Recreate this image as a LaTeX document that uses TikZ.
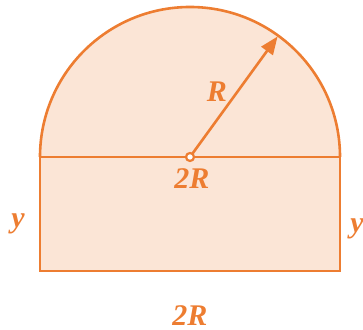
\documentclass[tikz,border=0pt]{standalone}
\usepackage{fontspec}
\setmainfont{Liberation Serif}
\usetikzlibrary{arrows.meta,calc}
\definecolor{shapeline}{HTML}{ED7D31}
\definecolor{shapefill}{HTML}{FBE5D6}
\tikzset{
  lbl/.style={text=shapeline,font=\fontsize{15}{17}\selectfont\bfseries\itshape,inner sep=0pt},
  edge/.style={draw=shapeline,line width=1.3pt}
}
\begin{document}
\begin{tikzpicture}[x=0.5pt,y=0.5pt]
  \useasboundingbox (0,0) rectangle (363,330);
  % centre of the half circle, radius 150
  \coordinate (C) at (190,173);
  \coordinate (tip) at ($(C)+(54:149)$);
  \fill[shapefill] (40,59) rectangle (340,173);
  \fill[shapefill] (40,173) arc (180:0:150) -- cycle;
  \draw[edge] (40,59) rectangle (340,173);
  \draw[edge] (40,173) arc (180:0:150);
  \draw[edge,-{Triangle[length=9pt,width=7pt]}] (C) -- (tip);
  \draw[edge,line width=1.1pt,fill=white] (C) circle (4);
  \node[lbl] (r) at (217,238) {R};
  \node[lbl] (d1) at (192,151) {2R};
  \node[lbl] (yl) at (18,106) {y};
  \node[lbl] (yr) at (357,101) {y};
  \node[lbl] (d2) at (190,14) {2R};
\end{tikzpicture}
\end{document}
